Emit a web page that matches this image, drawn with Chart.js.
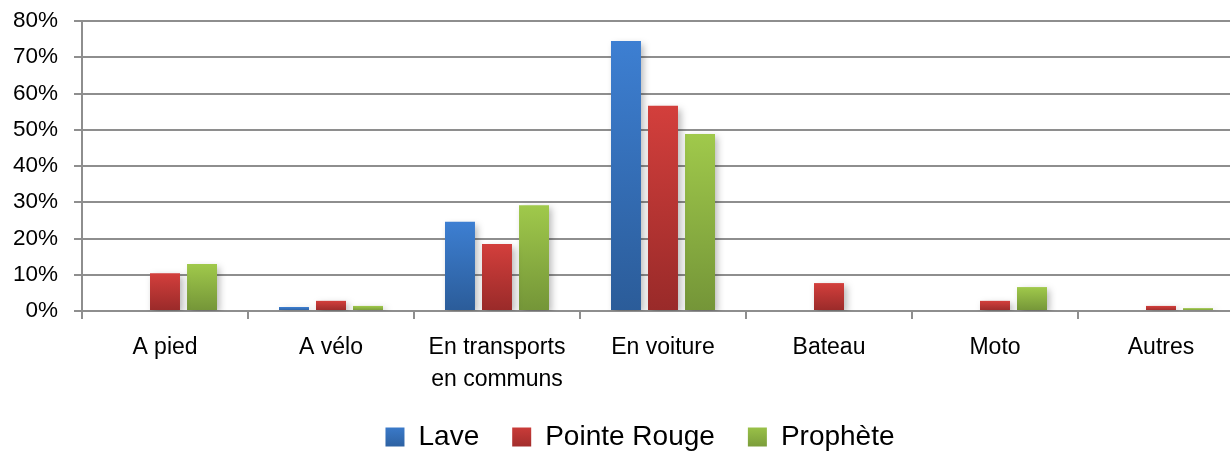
<!DOCTYPE html>
<html lang="fr">
<head>
<meta charset="utf-8">
<title>Mode de déplacement</title>
<script src="https://cdn.jsdelivr.net/npm/chart.js@4/dist/chart.umd.min.js"></script>
<style>
  html, body { margin: 0; padding: 0; background: #ffffff; overflow: hidden; }
  #wrap { width: 1280px; height: 451px; }
</style>
</head>
<body>
<div id="wrap"><canvas id="c" width="1280" height="451"></canvas></div>
<script>
// Catégories de déplacement
const categories = ['A pied', 'A vélo', ['En transports', 'en communs'], 'En voiture', 'Bateau', 'Moto', 'Autres'];

// Parts (%) par quartier
const lave        = [0,    1.1, 24.6, 74.5, 0,   0,   0];
const pointeRouge = [10.4, 2.8, 18.5, 56.6, 7.7, 2.8, 1.4];
const prophete    = [13.0, 1.4, 29.2, 48.8, 0,   6.6, 0.8];

// Graduations de l'axe vertical
const yTicks = [0, 10, 20, 30, 40, 50, 60, 70, 80];

const FONT = '"Liberation Sans", Arial, sans-serif';
const GRID = '#8e8e8e';

// Dégradés clair → foncé (haut → bas) pour chaque série
const palettes = {
  blue:  ['#3d7fd2', '#2b5c99'],
  red:   ['#d33f3c', '#992a29'],
  green: ['#a0c94b', '#749538']
};

function barFill(pal) {
  return (ctx) => {
    const chart = ctx.chart;
    const y = chart.scales && chart.scales.y;
    if (ctx.type !== 'data' || !y || ctx.raw == null) return pal[0];
    const top = y.getPixelForValue(ctx.raw);
    const base = y.getPixelForValue(0);
    if (!isFinite(top) || !isFinite(base) || Math.abs(base - top) < 0.5) return pal[0];
    const g = chart.ctx.createLinearGradient(0, top, 0, base);
    g.addColorStop(0, pal[0]);
    g.addColorStop(1, pal[1]);
    return g;
  };
}

// Ombre portée douce sous les barres
const barShadow = {
  id: 'barShadow',
  beforeDatasetsDraw(chart) {
    const c = chart.ctx;
    c.save();
    c.shadowColor = 'rgba(0,0,0,0.28)';
    c.shadowBlur = 7;
    c.shadowOffsetX = 3;
    c.shadowOffsetY = 3;
  },
  afterDatasetsDraw(chart) {
    chart.ctx.restore();
  }
};

// Légende : carrés dégradés et centrage sur toute la largeur du graphique
const LEGEND_SHIFT = 18;
const legendTweak = {
  id: 'legendTweak',
  afterUpdate(chart) {
    const lg = chart.legend;
    if (!lg || !lg.legendItems || !lg.legendHitBoxes) return;
    lg.left += LEGEND_SHIFT;
    lg.right += LEGEND_SHIFT;
    const pals = [palettes.blue, palettes.red, palettes.green];
    lg.legendItems.forEach((item, i) => {
      const hb = lg.legendHitBoxes[i];
      if (!hb) return;
      const g = chart.ctx.createLinearGradient(0, hb.top, 0, hb.top + hb.height);
      g.addColorStop(0, pals[i][0]);
      g.addColorStop(1, pals[i][1]);
      item.fillStyle = g;
    });
  }
};

const PLOT_BOTTOM = 311;
const CANVAS_H = 451;
const PAD_BOTTOM = -10;

new Chart(document.getElementById('c'), {
  type: 'bar',
  data: {
    labels: categories,
    datasets: [
      { label: 'Lave',         data: lave,        backgroundColor: barFill(palettes.blue),  borderWidth: 0 },
      { label: 'Pointe Rouge', data: pointeRouge, backgroundColor: barFill(palettes.red),   borderWidth: 0 },
      { label: 'Prophète',     data: prophete,    backgroundColor: barFill(palettes.green), borderWidth: 0 }
    ]
  },
  options: {
    responsive: false,
    animation: false,
    events: [],
    categoryPercentage: 0.669,
    barPercentage: 0.81,
    layout: { padding: { top: 21, right: 36, bottom: PAD_BOTTOM, left: 0 } },
    plugins: {
      tooltip: { enabled: false },
      legend: {
        position: 'bottom',
        labels: {
          boxWidth: 19,
          boxHeight: 19,
          padding: 33,
          color: '#000000',
          font: { family: FONT, size: 28 }
        }
      }
    },
    scales: {
      x: {
        grid: {
          display: true,
          drawOnChartArea: false,
          drawTicks: true,
          tickLength: 8,
          color: GRID,
          lineWidth: 2
        },
        border: { display: true, color: GRID, width: 2 },
        ticks: {
          color: '#000000',
          padding: 13,
          maxRotation: 0,
          autoSkip: false,
          font: { family: FONT, size: 23, lineHeight: 1.38 }
        },
        afterFit(scale) {
          const lgH = scale.chart.legend ? scale.chart.legend.height : 0;
          scale.height = CANVAS_H - PLOT_BOTTOM - lgH - PAD_BOTTOM;
          scale.paddingLeft = 0;
          scale.paddingRight = 0;
        }
      },
      y: {
        min: 0,
        max: 80,
        afterBuildTicks(scale) {
          scale.ticks = yTicks.map(v => ({ value: v }));
        },
        grid: {
          color: GRID,
          lineWidth: 2,
          drawTicks: true,
          tickLength: 8
        },
        border: { display: true, color: GRID, width: 2 },
        ticks: {
          color: '#000000',
          padding: 16,
          font: { family: FONT, size: 22.5 },
          callback: (v) => v + '%'
        },
        afterFit(scale) {
          scale.width = 82;
          scale.paddingTop = 0;
          scale.paddingBottom = 0;
        }
      }
    }
  },
  plugins: [barShadow, legendTweak]
});
</script>
</body>
</html>
